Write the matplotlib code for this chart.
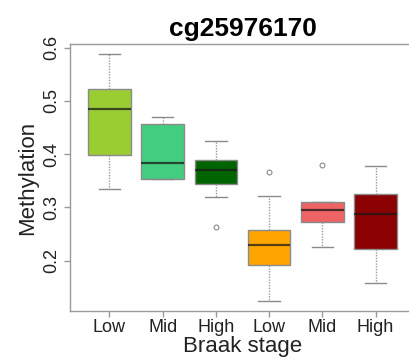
import matplotlib
matplotlib.use("Agg")
import matplotlib.pyplot as plt

plt.rcParams['font.family'] = ['Liberation Sans', 'DejaVu Sans']

# Braak stage groups (two probe sets of Low/Mid/High)
labels = ["Low", "Mid", "High", "Low", "Mid", "High"]
colors = ["#9ACD32", "#43CD80", "#006400", "#FFA500", "#EE6363", "#8B0000"]

# Box statistics per group
whis_lo = [0.334, 0.353, 0.319, 0.124, 0.226, 0.159]
q1      = [0.398, 0.353, 0.343, 0.192, 0.272, 0.221]
median  = [0.484, 0.383, 0.371, 0.229, 0.296, 0.288]
q3      = [0.522, 0.456, 0.389, 0.258, 0.310, 0.325]
whis_hi = [0.588, 0.469, 0.424, 0.321, 0.310, 0.378]
outliers = [[], [], [0.263], [0.366], [0.379], []]

stats = []
for i in range(len(labels)):
    stats.append(dict(whislo=whis_lo[i], q1=q1[i], med=median[i],
                      q3=q3[i], whishi=whis_hi[i], fliers=outliers[i]))

fig = plt.figure(figsize=(4.09, 3.59), dpi=100)
ax = fig.add_axes([70 / 409, 1 - 311 / 359, 345 / 409, 267 / 359])

bp = ax.bxp(stats, positions=range(1, 7), widths=0.8, patch_artist=True,
            boxprops=dict(edgecolor="#8a8a8a", linewidth=1.0),
            medianprops=dict(color="#1a1a1a", linewidth=1.6, alpha=0.75),
            whiskerprops=dict(color="#9a9a9a", linewidth=1.0, linestyle=(0, (1, 1))),
            capprops=dict(color="#8a8a8a", linewidth=1.0),
            capwidths=0.4,
            flierprops=dict(marker="o", markersize=3.5, markerfacecolor="none",
                            markeredgecolor="#8a8a8a", markeredgewidth=0.8))
for patch, c in zip(bp["boxes"], colors):
    patch.set_facecolor(c)

ax.set_xlim(0.26, 6.74)
ax.set_ylim(0.1056, 0.6066)
ax.set_yticks([0.2, 0.3, 0.4, 0.5, 0.6])
ax.set_yticklabels(["0.2", "0.3", "0.4", "0.5", "0.6"], rotation=90, va="center")
ax.set_xticks(range(1, 7))
ax.set_xticklabels(labels)

for s in ax.spines.values():
    s.set_color("#9a9a9a")
    s.set_linewidth(1.0)
ax.tick_params(axis="both", colors="#9a9a9a", labelcolor="#222222",
               length=4, width=1.0, labelsize=13)
ax.tick_params(axis="y", pad=3)
ax.tick_params(axis="x", pad=2)

ax.set_xlabel("Braak stage", fontsize=16, color="#222222", labelpad=0)
ax.set_ylabel("Methylation", fontsize=16, color="#222222", labelpad=4)
ax.set_title("cg25976170", fontsize=19, fontweight="bold", pad=6)

fig.savefig("out.png", dpi=100)
